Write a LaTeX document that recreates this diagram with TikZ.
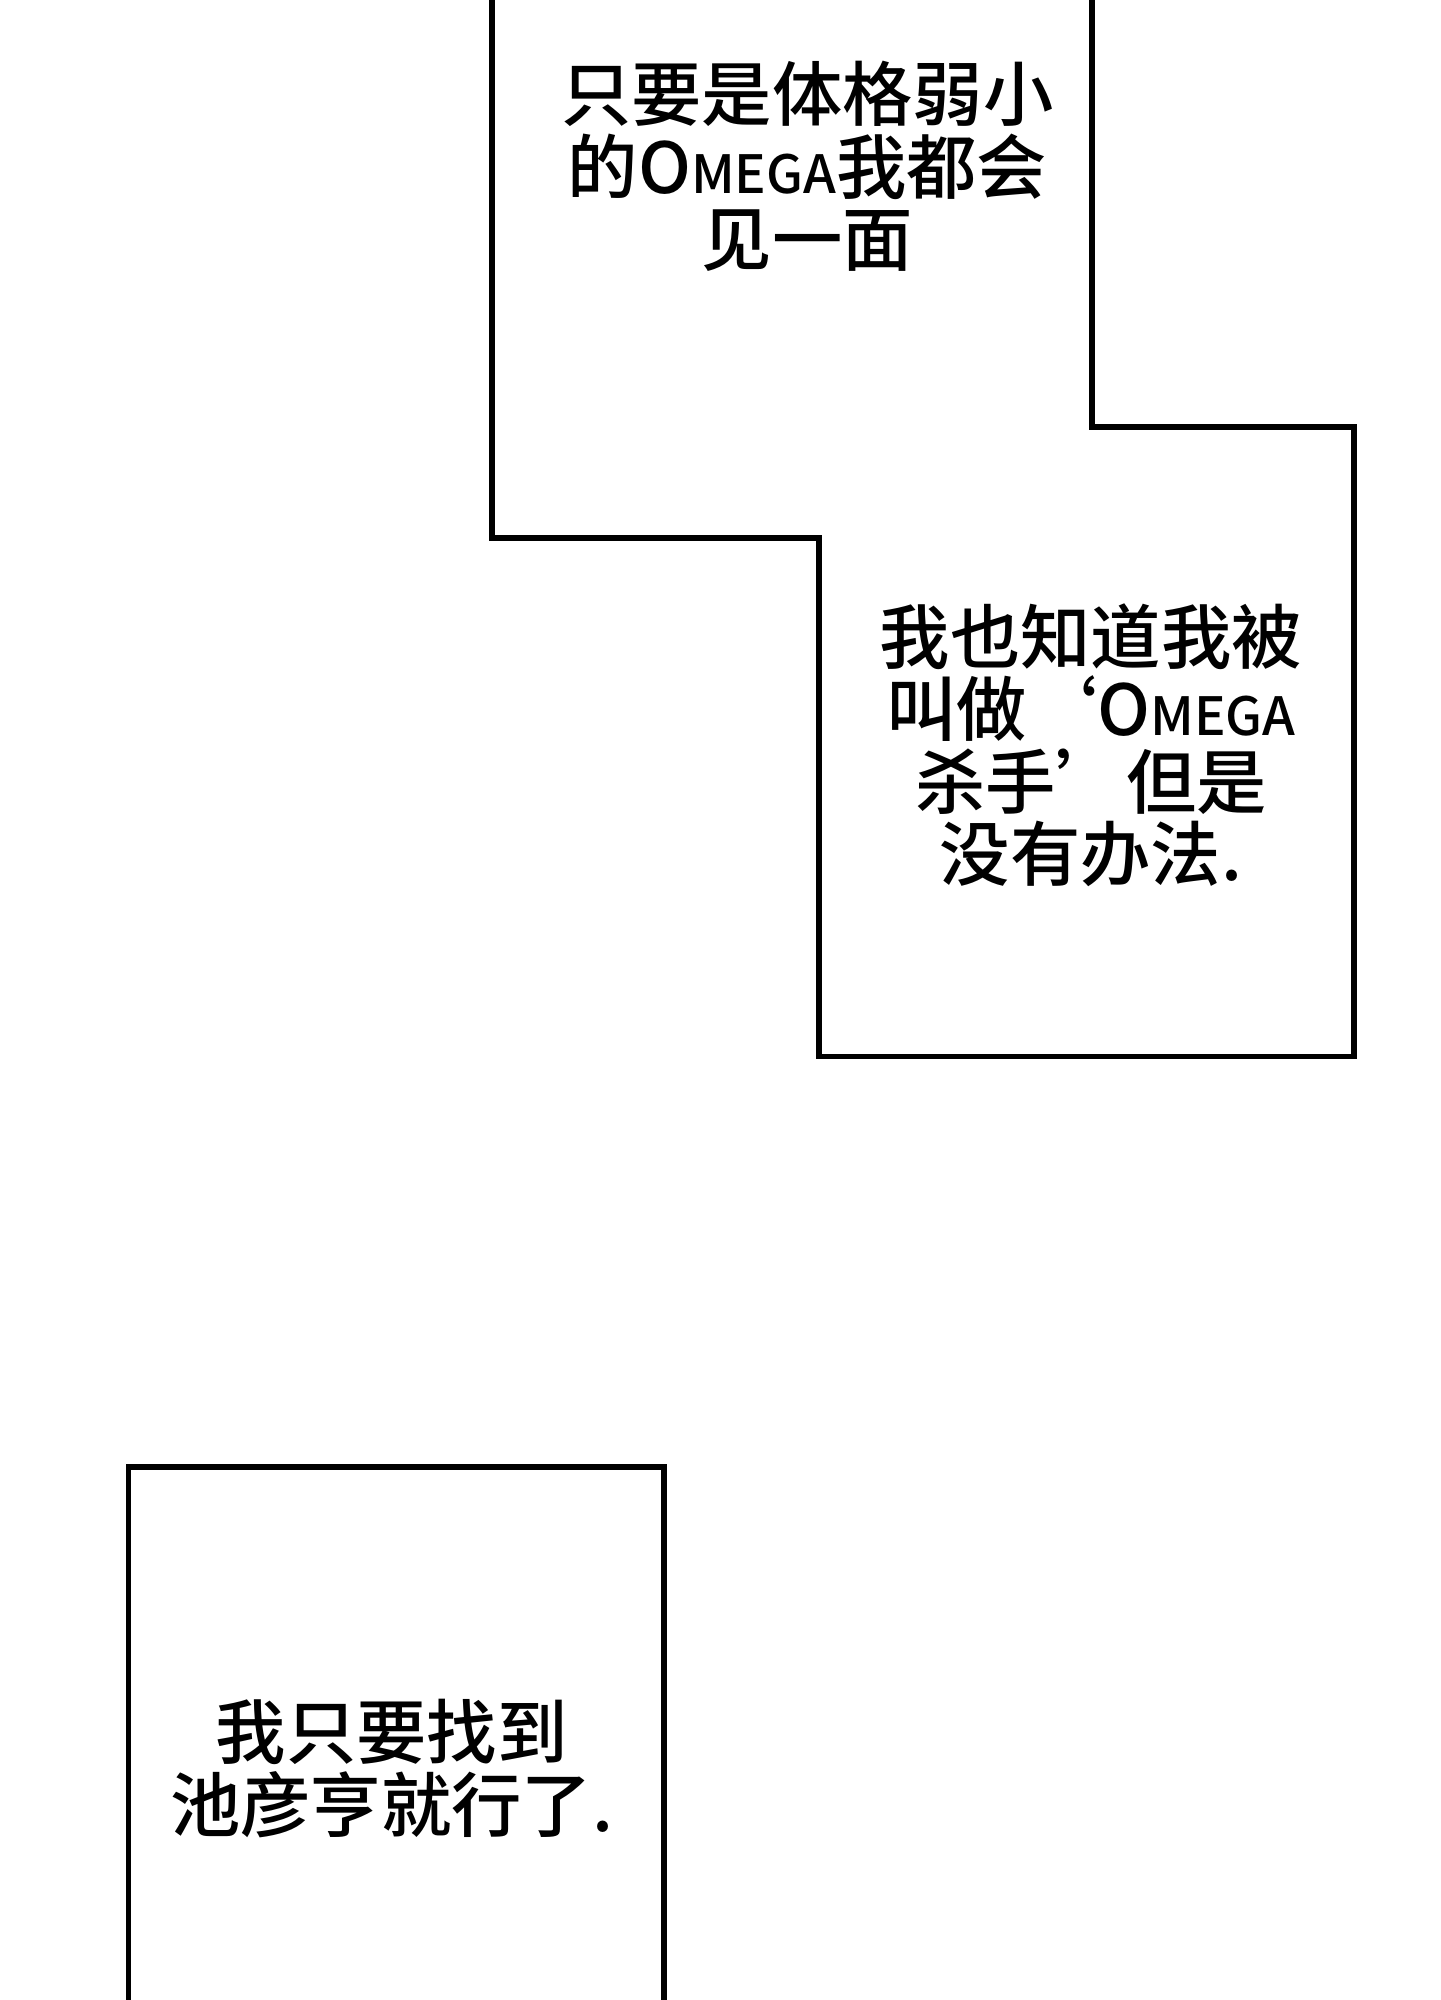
\documentclass[tikz,border=0pt]{standalone}
\usepackage{fontspec}
\newfontfamily\cjk{Noto Sans CJK SC Medium}
\newcommand{\omg}{O{\fontsize{15}{16}\selectfont MEGA}}
\tikzset{
  panel/.style={line width=1.6pt,line join=miter},
  says/.style={align=center,font=\cjk\fontsize{20}{20.6}\selectfont}
}
\begin{document}
\begin{tikzpicture}[x=0.1271mm,y=-0.1271mm]
\useasboundingbox (0,0) rectangle (1133,1573);
% upper panels
\draw[panel] (387,-5)--(387,423)--(644,423)--(644,831)--(1065,831)
	--(1065,336)--(859,336)--(859,-5);
% lower panel
\draw[panel] (101,1580)--(101,1154)--(522,1154)--(522,1580);
\node[says] (first) at (635,131) {只要是体格弱小\\的\omg 我都会\\见一面};
\node[says] (second) at (858,586) {我也知道我被\\叫做‘\omg\\杀手’但是\\没有办法.};
\node[says] (third) at (308,1391) {我只要找到\\池彦亨就行了.};
\end{tikzpicture}
\end{document}
